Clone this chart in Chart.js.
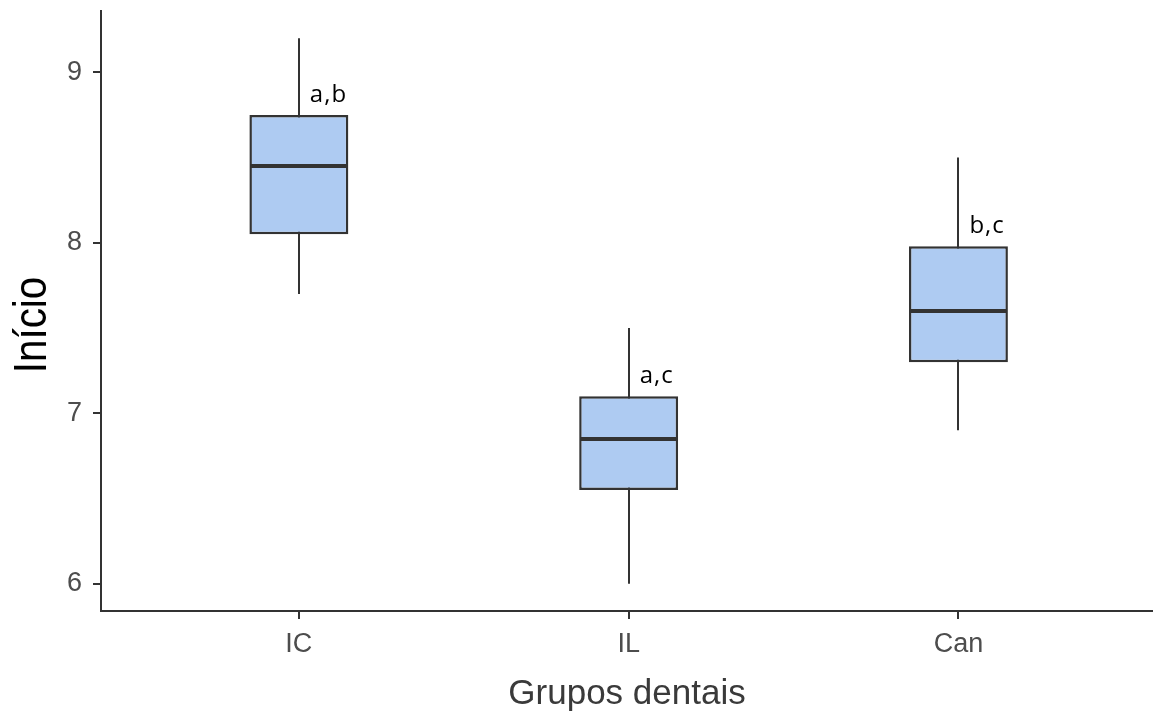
<!DOCTYPE html>
<html>
<head>
<meta charset="utf-8">
<title>Início por grupos dentais</title>
<script src="https://cdn.jsdelivr.net/npm/chart.js@4.4.1/dist/chart.umd.min.js"></script>
<style>
    html, body { margin: 0; padding: 0; background: #fff; }
    #wrap { width: 1153px; height: 716px; position: relative; }
</style>
</head>
<body>
<div id="wrap"><canvas id="boxChart"></canvas></div>
<script>
// Data
const groups = ['IC', 'IL', 'Can'];
const whiskerLow = [7.7, 6.0, 6.9];
const q1 = [8.05, 6.55, 7.3];
const medians = [8.45, 6.85, 7.6];
const q3 = [8.75, 7.1, 7.98];
const whiskerHigh = [9.2, 7.5, 8.5];
const letters = ['a,b', 'a,c', 'b,c'];
const yTicks = [6, 7, 8, 9];

const ink = '#333333';
const boxFill = '#aecbf2';
const tickColor = '#4d4d4d';

// whiskers under the boxes, medians + letters on top
const boxplotExtras = {
    id: 'boxplotExtras',
    beforeDatasetsDraw(chart) {
        const { ctx, scales: { x, y } } = chart;
        ctx.save();
        ctx.strokeStyle = ink;
        ctx.lineWidth = 2;
        groups.forEach((g, i) => {
            const px = Math.round(x.getPixelForValue(i + 1));
            ctx.beginPath();
            ctx.moveTo(px, y.getPixelForValue(whiskerLow[i]));
            ctx.lineTo(px, y.getPixelForValue(whiskerHigh[i]));
            ctx.stroke();
        });
        ctx.restore();
    },
    afterDatasetsDraw(chart) {
        const { ctx, scales: { x, y }, chartArea } = chart;
        const meta = chart.getDatasetMeta(0);
        ctx.save();
        ctx.strokeStyle = ink;
        ctx.lineWidth = 4;
        meta.data.forEach((bar, i) => {
            const half = bar.width / 2;
            const py = Math.round(y.getPixelForValue(medians[i]));
            ctx.beginPath();
            ctx.moveTo(bar.x - half + 1, py);
            ctx.lineTo(bar.x + half - 1, py);
            ctx.stroke();
        });

        // significance letters
        ctx.fillStyle = '#000';
        ctx.font = '24px "Open Sans"';
        ctx.letterSpacing = '1px';
        ctx.textAlign = 'left';
        ctx.textBaseline = 'alphabetic';
        letters.forEach((txt, i) => {
            ctx.fillText(txt, x.getPixelForValue(i + 1) + 11, y.getPixelForValue(q3[i]) - 13);
        });
        ctx.letterSpacing = '0px';

        // y title, placed a bit below centre like the original (narrow face)
        ctx.translate(33, (chartArea.top + chartArea.bottom) / 2 + 14);
        ctx.rotate(-Math.PI / 2);
        ctx.scale(0.86, 1);
        ctx.fillStyle = '#000';
        ctx.font = '47px "Liberation Sans"';
        ctx.textAlign = 'center';
        ctx.textBaseline = 'middle';
        ctx.fillText('Início', 0, 0);
        ctx.restore();
    }
};

new Chart(document.getElementById('boxChart'), {
    type: 'bar',
    data: {
        datasets: [{
            data: groups.map((g, i) => ({ x: i + 1, y: [q1[i], q3[i]] })),
            backgroundColor: boxFill,
            borderColor: ink,
            borderWidth: 2.5,
            borderSkipped: false,
            barPercentage: 0.3,
            categoryPercentage: 1
        }]
    },
    options: {
        responsive: true,
        maintainAspectRatio: false,
        animation: false,
        layout: { padding: { top: 11, right: 0, bottom: 0, left: 0 } },
        plugins: {
            legend: { display: false },
            tooltip: { enabled: false }
        },
        scales: {
            x: {
                type: 'linear',
                offset: false,
                min: 0.4,
                max: 3.59,
                afterBuildTicks: (scale) => { scale.ticks = groups.map((g, i) => ({ value: i + 1 })); },
                afterFit: (scale) => {
                    scale.height = 105;
                    scale.paddingLeft = 0;
                    scale.paddingRight = 0;
                },
                ticks: {
                    callback: (v) => groups[v - 1],
                    autoSkip: false,
                    maxRotation: 0,
                    padding: 9,
                    color: tickColor,
                    font: { family: '"Liberation Sans"', size: 27 }
                },
                grid: { offset: false, drawOnChartArea: false, color: ink, lineWidth: 2, tickLength: 8 },
                border: { display: true, color: ink, width: 2 },
                title: {
                    display: true,
                    text: 'Grupos dentais',
                    color: '#3a3a3a',
                    padding: { top: 0, bottom: 1 },
                    font: { family: '"Liberation Sans"', size: 35 }
                }
            },
            y: {
                min: 5.84,
                max: 9.36,
                afterBuildTicks: (scale) => { scale.ticks = yTicks.map(v => ({ value: v })); },
                afterFit: (scale) => {
                    scale.width = 101;
                    scale.paddingTop = 0;
                    scale.paddingBottom = 0;
                },
                ticks: {
                    padding: 11,
                    color: tickColor,
                    font: { family: '"Liberation Sans"', size: 27 }
                },
                grid: { drawOnChartArea: false, color: ink, lineWidth: 2, tickLength: 8 },
                border: { display: true, color: ink, width: 2 }
            }
        }
    },
    plugins: [boxplotExtras]
});
</script>
</body>
</html>
